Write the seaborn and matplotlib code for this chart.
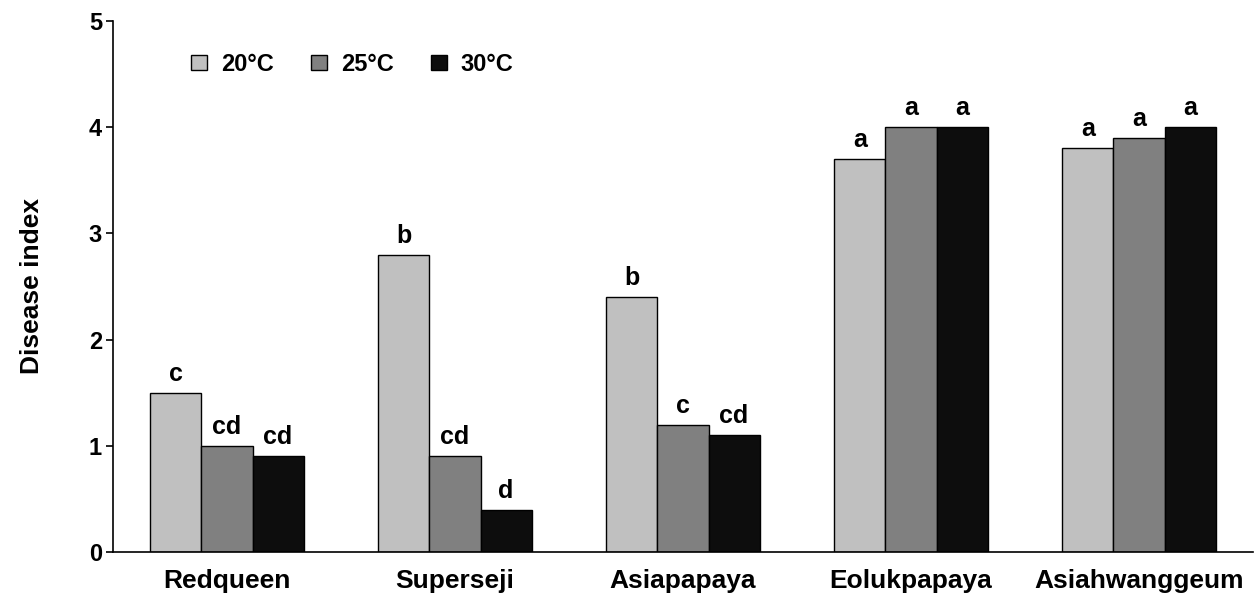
import numpy as np
import pandas as pd
import matplotlib
matplotlib.use("Agg")
import matplotlib.pyplot as plt
import seaborn as sns

cultivars = ["Redqueen", "Superseji", "Asiapapaya", "Eolukpapaya", "Asiahwanggeum"]
temps = ["20°C", "25°C", "30°C"]
t20 = [1.5, 2.8, 2.4, 3.7, 3.8]
t25 = [1.0, 0.9, 1.2, 4.0, 3.9]
t30 = [0.9, 0.4, 1.1, 4.0, 4.0]
letters20 = ["c", "b", "b", "a", "a"]
letters25 = ["cd", "cd", "c", "a", "a"]
letters30 = ["cd", "d", "cd", "a", "a"]

rows = []
for t, vals in zip(temps, [t20, t25, t30]):
    for c, v in zip(cultivars, vals):
        rows.append({"cultivar": c, "temp": t, "index": v})
df = pd.DataFrame(rows)

sns.set_style("white")
plt.rcParams["font.family"] = ["Liberation Sans", "DejaVu Sans"]
plt.rcParams["font.weight"] = "bold"
plt.rcParams["text.color"] = "black"
plt.rcParams["axes.labelcolor"] = "black"
plt.rcParams["xtick.color"] = "black"
plt.rcParams["ytick.color"] = "black"

fig = plt.figure(figsize=(12.54, 5.99), dpi=100)
ax = fig.add_axes([113 / 1254, 47 / 599, 1140 / 1254, 531 / 599])

colors = ["#c0c0c0", "#808080", "#0d0d0d"]
sns.barplot(data=df, x="cultivar", y="index", hue="temp", order=cultivars,
            hue_order=temps, palette=colors, width=0.672, edgecolor="black",
            linewidth=1, saturation=1, ax=ax, errorbar=None)

for cont, labs in zip(ax.containers, [letters20, letters25, letters30]):
    for bar, lab in zip(cont, labs):
        ax.annotate(lab, (bar.get_x() + bar.get_width() / 2, bar.get_height()),
                    xytext=(0, 5), textcoords="offset points", ha="center",
                    va="bottom", fontsize=18, fontweight="bold")

ax.set_xlim(-0.5, 4.5)
ax.set_ylim(0, 5)
ax.set_yticks(range(6))
ax.set_xlabel("")
ax.set_ylabel("Disease index", fontsize=19, fontweight="bold", labelpad=32)
ax.set_xticks(np.arange(-0.5, 5, 1), minor=True)
ax.tick_params(axis="x", which="major", length=0, pad=12, labelsize=19)
ax.tick_params(axis="x", which="minor", direction="in", length=6, width=1.2)
ax.tick_params(axis="y", direction="out", length=5, width=1.2, labelsize=17, pad=3, left=True)
for lbl in ax.get_xticklabels() + ax.get_yticklabels():
    lbl.set_fontweight("bold")
sns.despine(ax=ax)
for s in ["left", "bottom"]:
    ax.spines[s].set_linewidth(1.2)
    ax.spines[s].set_color("black")

ax.legend(loc="upper left", bbox_to_anchor=(0.05, 0.98), ncol=3, frameon=False,
          prop={"size": 17, "weight": "bold"}, handlelength=0.65, handleheight=0.65,
          handletextpad=0.6, columnspacing=1.6)

fig.savefig("out.png", dpi=100)
